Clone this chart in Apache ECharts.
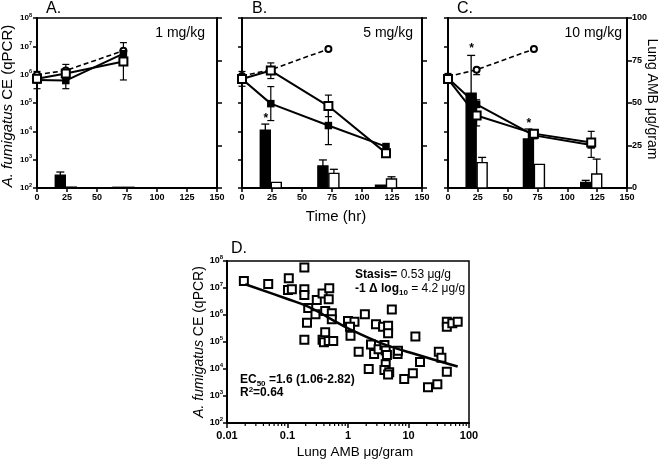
<!DOCTYPE html>
<html><head><meta charset="utf-8">
<script src="https://cdn.jsdelivr.net/npm/echarts@6/dist/echarts.min.js"></script>
<style>html,body{margin:0;padding:0;background:#fff}#c{width:664px;height:459px}</style>
</head><body><div id="c"></div>
<script>
// ---------- DATA ----------
const timeTicks = [0, 25, 50, 75, 100, 125, 150];
// Panel A (1 mg/kg)  [time, CE]
const aCtrl   = [[0,1.0e6],[24,1.4e6],[72,7.0e6]];
const aFilled = [[0,6.5e5],[24,6.2e5],[72,5.5e6]];
const aOpen   = [[0,7.2e5],[24,1.1e6],[72,2.9e6]];
const aErr    = [[0,3.2e5,1.3e6],[24,3.2e5,2.3e6],[72,6.5e5,1.35e7]];
const aBarsFilled = [[24,7.6,9.4],[72,0.4,0.4]];
const aBarsOpen   = [[24,0.5,0.5],[72,0.4,0.4]];
const aStars = [];
// Panel B (5 mg/kg)
const bCtrl   = [[0,9.0e5],[24,1.5e6],[72,8.0e6]];
const bFilled = [[0,7.0e5],[24,9.5e4],[72,1.6e4],[120,2.9e3]];
const bOpen   = [[0,7.0e5],[24,1.4e6],[72,7.8e4],[120,1.7e3]];
const bErr    = [[0,3.9e5,1.3e6],[24,2.4e4,3.8e5],[24,7.3e5,2.6e6],[72,3.4e3,7.5e4],[72,3.3e4,1.9e5]];
const bBarsFilled = [[24,34,37.6],[72,13,16.5],[120,1.6,1.6]];
const bBarsOpen   = [[24,3.3,3.3],[72,8.6,11],[120,5.3,6.6]];
const bStars = [[24,41]];
// Panel C (10 mg/kg)
const cCtrl   = [[0,8.5e5],[24,1.5e6],[72,8.0e6]];
const cFilled = [[0,7.5e5],[24,8.9e4],[72,7.2e3],[120,3.3e3]];
const cOpen   = [[0,7.0e5],[24,3.6e4],[72,8.3e3],[120,4.0e3]];
const cErr    = [[0,5.3e5,1.1e6],[24,1.0e6,1.6e6],[24,1.55e4,1.3e5],[72,5.5e3,1.0e4],[120,1.2e3,1.0e4]];
const cBarsFilled = [[24,55.7,78],[72,28.8,34.7],[120,3.3,4.5]];
const cBarsOpen   = [[24,14.9,18],[72,13.9,13.9],[120,8.2,17]];
const cStars = [[24,82],[72,38]];
// Panel D  [Lung AMB ug/g, CE]
const dPoints = [
 [0.019,1.8e7],[0.048,1.4e7],[0.105,2.3e7],[0.19,5.8e7],[0.102,8.5e6],[0.118,8.9e6],[0.19,9e6],[0.19,5.5e6],
 [0.305,3.6e6],[0.38,6.3e6],[0.49,9.8e6],[0.48,3.8e6],[0.22,1.8e6],[0.29,1.07e6],[0.42,1.4e6],[0.54,1.15e6],
 [0.54,7e5],[0.21,5.2e5],[0.19,1.2e5],[0.38,1.2e5],[0.42,2.3e5],[0.40,9.8e4],[0.48,1.1e5],[0.57,1.1e5],
 [1.0,6e5],[1.28,5.6e5],[1.08,3.7e5],[1.1,1.7e5],[1.5,4.4e4],[1.9,1.07e6],[5.3,1.6e6],[2.9,4.5e5],[3.8,3.7e5],
 [4.6,4e5],[4.6,2.1e5],[13,1.6e5],[2.4,8.1e4],[2.7,3.6e4],[3.2,5.4e4],[4.0,7.7e4],[4.2,4.8e4],[4.4,3.3e4],
 [6.6,3.6e4],[6.7,4.7e4],[2.2,1e4],[4.2,1.5e4],[4.0,9.1e3],[4.8,7.6e3],[4.6,6.3e3],[15.5,1.8e4],[8.5,4.3e3],
 [11.8,6.9e3],[21,2.1e3],[30,2.7e3],[31.7,4.4e4],[35,2.6e4],[43,7.9e3],[43,5.6e5],[43,3.7e5],[53,4.9e5],[65,5.6e5]
];
const dCurve = [[0.02,1.38e7],[0.1,3.9e6],[0.224,2.0e6],[0.5,7.5e5],[1,3.2e5],[3.6,8.9e4],[14.5,3.3e4],[65,1.23e4]];

// ---------- CHART ----------
const FONT = "'Liberation Sans', Arial, Helvetica, sans-serif";
const chart = echarts.init(document.getElementById('c'), null, {renderer:'canvas'});

const grids = [
  {left:37, top:18, width:180, height:170},
  {left:242, top:18, width:180, height:170},
  {left:448, top:18, width:179, height:170},
  {left:227, top:261, width:242, height:162}
].map(g => Object.assign({show:true, borderColor:'#000', borderWidth:1.5, backgroundColor:'transparent'}, g));

const axLine = {show:true, onZero:false, lineStyle:{color:'#000', width:2}};
const axTick = {show:true, length:4, lineStyle:{color:'#000', width:1.5}};
function logFmt(v){ const e = Math.round(Math.log10(v)); return '{b|10}{s|' + e + '}'; }

function topX(gi){
  return {type:'value', gridIndex:gi, min:0, max:150, interval:25,
    axisLine:axLine, axisTick:axTick, splitLine:{show:false},
    axisLabel:{fontSize:9, fontWeight:'bold', color:'#000', fontFamily:FONT, margin:5}};
}
function topYL(gi, showLab){
  return {type:'log', logBase:10, gridIndex:gi, min:1e2, max:1e8, splitNumber:6, position:'left',
    axisLine:axLine, axisTick:axTick, splitLine:{show:false}, minorTick:{show:false},
    axisLabel:{show:showLab, margin:5, color:'#000', formatter:logFmt,
      rich:{b:{fontSize:8, fontWeight:'bold', fontFamily:FONT, color:'#000', lineHeight:12},
            s:{fontSize:5.5, fontWeight:'bold', fontFamily:FONT, color:'#000', verticalAlign:'top', lineHeight:12}}}};
}
function topYR(gi, showLab){
  return {type:'value', gridIndex:gi, min:0, max:100, interval:25, position:'right',
    axisLine:axLine, axisTick:{show:true, length:5, lineStyle:{color:'#000', width:1.5}}, splitLine:{show:false},
    axisLabel:{show:showLab, fontSize:9, fontWeight:'bold', color:'#000', fontFamily:FONT, margin:5}};
}

const xAxes = [topX(0), topX(1), topX(2),
  {type:'log', logBase:10, gridIndex:3, min:0.01, max:100, splitNumber:4,
   axisLine:axLine, axisTick:{show:true, length:5, lineStyle:{color:'#000', width:1.5}}, splitLine:{show:false},
   axisLabel:{fontSize:11, fontWeight:'bold', color:'#000', fontFamily:FONT, margin:7,
     formatter:function(v){ const e=Math.round(Math.log10(v)); return e<0 ? Math.pow(10,e).toFixed(-e) : String(Math.pow(10,e)); }}}];
const yAxes = [topYL(0,true), topYR(0,false), topYL(1,false), topYR(1,false), topYL(2,false), topYR(2,true),
  {type:'log', logBase:10, gridIndex:3, min:1e2, max:1e8, splitNumber:6, position:'left',
   axisLine:axLine, axisTick:axTick, splitLine:{show:false},
   axisLabel:{margin:4, color:'#000', formatter:logFmt,
     rich:{b:{fontSize:9, fontWeight:'bold', fontFamily:FONT, color:'#000', lineHeight:13},
           s:{fontSize:6, fontWeight:'bold', fontFamily:FONT, color:'#000', verticalAlign:'top', lineHeight:13}}}}];

function barRender(kind){
  return function(params, api){
    const t = api.value(0), v = api.value(1), e = api.value(2);
    const base = api.coord([t, 0]), top = api.coord([t, v]), et = api.coord([t, e]);
    const w = 10;
    const x0 = kind === 0 ? base[0] - w - 0.5 : base[0] + 0.5;
    const cx = x0 + w/2;
    const ch = [{type:'rect', shape:{x:x0, y:top[1], width:w, height:Math.max(base[1]-top[1],0.8)},
      style:{fill: kind===0 ? '#000' : '#fff', stroke:'#000', lineWidth:1.4}}];
    if (e > v) {
      ch.push({type:'line', shape:{x1:cx, y1:top[1], x2:cx, y2:et[1]}, style:{stroke:'#000', lineWidth:1.3}});
      ch.push({type:'line', shape:{x1:cx-4, y1:et[1], x2:cx+4, y2:et[1]}, style:{stroke:'#000', lineWidth:1.3}});
    }
    return {type:'group', children:ch};
  };
}
function errRender(params, api){
  const t = api.value(0);
  const lo = api.coord([t, api.value(1)]), hi = api.coord([t, api.value(2)]);
  const c = 3.5, st = {stroke:'#000', lineWidth:1.2};
  return {type:'group', children:[
    {type:'line', shape:{x1:lo[0], y1:lo[1], x2:hi[0], y2:hi[1]}, style:st},
    {type:'line', shape:{x1:lo[0]-c, y1:lo[1], x2:lo[0]+c, y2:lo[1]}, style:st},
    {type:'line', shape:{x1:hi[0]-c, y1:hi[1], x2:hi[0]+c, y2:hi[1]}, style:st}]};
}
function starRender(params, api){
  const p = api.coord([api.value(0), api.value(1)]);
  return {type:'text', x:p[0]-5, y:p[1], style:{text:'*', fill:'#000', font:'bold 12px ' + FONT, align:'center', verticalAlign:'middle'}};
}

function panelSeries(pi, ctrl, filled, open, err, bf, bo, stars){
  const xi = pi, yl = 2*pi, yr = 2*pi + 1;
  const s = [];
  s.push({type:'custom', xAxisIndex:xi, yAxisIndex:yr, renderItem:barRender(0), data:bf, encode:{x:0, y:[1,2]}, z:1, silent:true});
  s.push({type:'custom', xAxisIndex:xi, yAxisIndex:yr, renderItem:barRender(1), data:bo, encode:{x:0, y:[1,2]}, z:1, silent:true});
  if (stars.length) s.push({type:'custom', xAxisIndex:xi, yAxisIndex:yr, renderItem:starRender, data:stars, encode:{x:0, y:1}, z:2, silent:true});
  s.push({type:'custom', xAxisIndex:xi, yAxisIndex:yl, renderItem:errRender, data:err, encode:{x:0, y:[1,2]}, z:2, silent:true});
  s.push({type:'line', xAxisIndex:xi, yAxisIndex:yl, data:ctrl, symbol:'emptyCircle', symbolSize:6,
    lineStyle:{type:[5,3], width:1.6, color:'#000'}, itemStyle:{color:'#000', borderWidth:1}, z:3, clip:false});
  s.push({type:'line', xAxisIndex:xi, yAxisIndex:yl, data:filled, symbol:'rect', symbolSize:7.5,
    lineStyle:{width:2, color:'#000'}, itemStyle:{color:'#000'}, z:4, clip:false});
  s.push({type:'line', xAxisIndex:xi, yAxisIndex:yl, data:open, symbol:'emptyRect', symbolSize:8,
    lineStyle:{width:2, color:'#000'}, itemStyle:{color:'#000', borderWidth:1.5}, z:5, clip:false});
  return s;
}

function minorRender(params, api){
  const p = api.coord([api.value(0), 1e2]);
  return {type:'line', shape:{x1:p[0], y1:p[1], x2:p[0], y2:p[1]+3}, style:{stroke:'#000', lineWidth:1.2}};
}
const minorTicksD = [];
for (let d = -2; d < 2; d++) for (let k = 2; k <= 9; k++) minorTicksD.push([k * Math.pow(10, d)]);

const series = [].concat(
  panelSeries(0, aCtrl, aFilled, aOpen, aErr, aBarsFilled, aBarsOpen, aStars),
  panelSeries(1, bCtrl, bFilled, bOpen, bErr, bBarsFilled, bBarsOpen, bStars),
  panelSeries(2, cCtrl, cFilled, cOpen, cErr, cBarsFilled, cBarsOpen, cStars),
  [
    {type:'scatter', xAxisIndex:3, yAxisIndex:6, data:dPoints, symbol:'emptyRect', symbolSize:8,
     itemStyle:{color:'#000', borderColor:'#000', borderWidth:1.5, opacity:1}, z:3},
    {type:'line', xAxisIndex:3, yAxisIndex:6, data:dCurve, symbol:'none', smooth:0.4,
     lineStyle:{color:'#000', width:2.5}, z:4},
    {type:'custom', xAxisIndex:3, yAxisIndex:6, renderItem:minorRender, data:minorTicksD, encode:{x:0}, z:5, silent:true}
  ]
);

const T = (x, y, text, size, extra) => Object.assign({type:'text', x:x, y:y,
  style:Object.assign({text:text, fill:'#000', font: size + 'px ' + FONT}, extra || {})});

const graphic = [
  T(46, 1, 'A.', 16),
  T(252, 1, 'B.', 16),
  T(457, 1, 'C.', 16),
  T(231, 241, 'D.', 16),
  T(205, 33, '1 mg/kg', 14, {align:'right', verticalAlign:'middle'}),
  T(413, 33, '5 mg/kg', 14, {align:'right', verticalAlign:'middle'}),
  T(622, 33, '10 mg/kg', 14, {align:'right', verticalAlign:'middle'}),
  T(336, 217, 'Time (hr)', 15, {align:'center', verticalAlign:'middle'}),
  {type:'text', x:8, y:106, rotation:Math.PI/2,
   style:{text:'{i|A. fumigatus} CE (qPCR)', fill:'#000', font:'15px ' + FONT, align:'center', verticalAlign:'middle',
     rich:{i:{fontStyle:'italic', fontSize:15, fontFamily:FONT, fill:'#000'}}}},
  {type:'text', x:652, y:99, rotation:-Math.PI/2,
   style:{text:'Lung AMB μg/gram', fill:'#000', font:'14px ' + FONT, align:'center', verticalAlign:'middle'}},
  {type:'text', x:199, y:342, rotation:Math.PI/2,
   style:{text:'{i|A. fumigatus} CE (qPCR)', fill:'#000', font:'14px ' + FONT, align:'center', verticalAlign:'middle',
     rich:{i:{fontStyle:'italic', fontSize:14, fontFamily:FONT, fill:'#000'}}}},
  T(355, 452, 'Lung AMB μg/gram', 13.5, {align:'center', verticalAlign:'middle'}),
  {type:'text', x:355, y:275, style:{text:'{b|Stasis=} {n|0.53 μg/g}', fill:'#000', verticalAlign:'middle',
     rich:{b:{fontWeight:'bold', fontSize:12, fontFamily:FONT}, n:{fontSize:12, fontFamily:FONT}}}},
  {type:'text', x:355, y:289, style:{text:'{b|-1 Δ log}{s|10}{n| = 4.2 μg/g}', fill:'#000', verticalAlign:'middle',
     rich:{b:{fontWeight:'bold', fontSize:12, fontFamily:FONT, lineHeight:15}, s:{fontWeight:'bold', fontSize:8, fontFamily:FONT, verticalAlign:'bottom', lineHeight:15},
           n:{fontSize:12, fontFamily:FONT, lineHeight:15}}}},
  {type:'text', x:240, y:380, style:{text:'{b|EC}{s|50}{b| =1.6 (1.06-2.82)}', fill:'#000', verticalAlign:'middle',
     rich:{b:{fontWeight:'bold', fontSize:12, fontFamily:FONT, lineHeight:15}, s:{fontWeight:'bold', fontSize:8, fontFamily:FONT, verticalAlign:'bottom', lineHeight:15}}}},
  {type:'text', x:240, y:393, style:{text:'{b|R}{s|2}{b|=0.64}', fill:'#000', verticalAlign:'middle',
     rich:{b:{fontWeight:'bold', fontSize:12, fontFamily:FONT, lineHeight:15}, s:{fontWeight:'bold', fontSize:8, fontFamily:FONT, verticalAlign:'top', lineHeight:15}}}}
];

chart.setOption({
  animation:false,
  backgroundColor:'#fff',
  grid:grids,
  xAxis:xAxes,
  yAxis:yAxes,
  series:series,
  graphic:graphic
});
</script>
</body></html>
